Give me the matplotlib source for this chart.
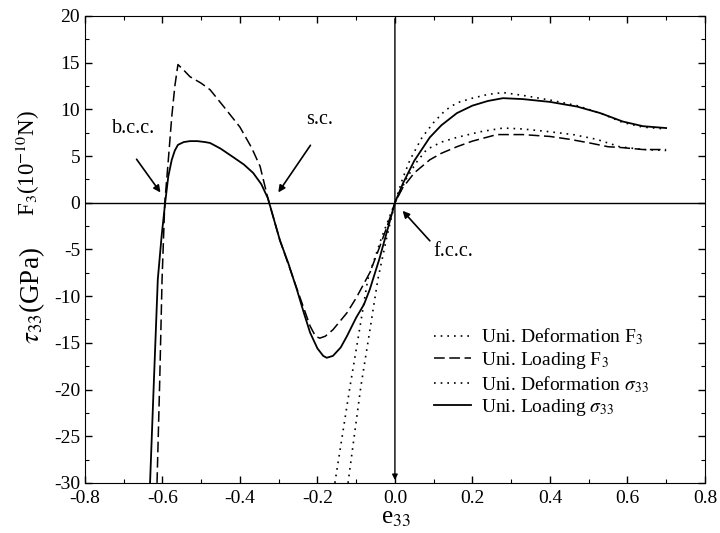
import matplotlib.pyplot as plt

# Uni. Loading sigma_33 (solid)
load_sig_x = [-0.632, -0.622, -0.612, -0.602, -0.593, -0.585, -0.576, -0.568, -0.56,
              -0.545, -0.529, -0.51, -0.49, -0.477, -0.45, -0.418, -0.39, -0.366,
              -0.345, -0.328, -0.297, -0.275, -0.253, -0.235, -0.219, -0.2, -0.185,
              -0.176, -0.16, -0.14, -0.124, -0.1, -0.08, -0.065, -0.04, -0.02, 0.0,
              0.021, 0.05, 0.09, 0.12, 0.16, 0.2, 0.24, 0.279, 0.33, 0.40, 0.47,
              0.53, 0.588, 0.64, 0.70]
load_sig_y = [-30, -19, -8.2, -3.5, 0, 2.8, 4.6, 5.6, 6.2,
              6.5, 6.6, 6.6, 6.5, 6.4, 5.8, 4.9, 4.1, 3.2,
              2.0, 0.5, -4.0, -6.5, -9.3, -11.8, -13.9, -15.6, -16.4,
              -16.6, -16.4, -15.5, -14.3, -12.3, -10.9, -9.3, -6.0, -3.0, 0.0,
              2.1, 4.5, 7.0, 8.3, 9.6, 10.4, 10.9, 11.2, 11.1, 10.8, 10.3,
              9.6, 8.7, 8.2, 8.0]

# Uni. Loading F3 (dashed)
load_f_x = [-0.614, -0.607, -0.601, -0.594, -0.585, -0.576, -0.568, -0.56, -0.545,
            -0.529, -0.50, -0.477, -0.44, -0.40, -0.37, -0.348, -0.328, -0.297,
            -0.253, -0.219, -0.205, -0.194, -0.18, -0.16, -0.124, -0.1, -0.065,
            -0.04, -0.02, 0.0, 0.02, 0.05, 0.09, 0.12, 0.16, 0.2, 0.263, 0.33,
            0.40, 0.45, 0.503, 0.55, 0.588, 0.64, 0.70]
load_f_y = [-30, -19, -8.2, 0, 4.5, 9.2, 12.5, 14.8, 14.2,
            13.5, 12.8, 12.1, 10.2, 8.1, 5.9, 3.9, 0.5, -4.0,
            -9.2, -13.2, -14.3, -14.5, -14.3, -13.6, -11.8, -10.2, -7.5,
            -4.8, -2.5, 0.0, 1.6, 3.2, 4.6, 5.3, 6.0, 6.6, 7.3, 7.3,
            7.1, 6.8, 6.4, 6.0, 5.9, 5.7, 5.7]

# Uni. Deformation sigma_33 (dotted)
def_sig_x = [-0.121, -0.105, -0.088, -0.066, -0.044, -0.02, 0.0, 0.02, 0.039, 0.07,
             0.1, 0.13, 0.16, 0.2, 0.24, 0.279, 0.33, 0.40, 0.47, 0.53, 0.588,
             0.64, 0.70]
def_sig_y = [-30, -25, -19.7, -14, -8.2, -3.5, 0, 2.6, 4.6, 7.0,
             8.6, 9.9, 10.7, 11.2, 11.6, 11.8, 11.5, 11.0, 10.4, 9.6, 8.6,
             8.1, 7.9]

# Uni. Deformation F3 (dotted)
def_f_x = [-0.155, -0.136, -0.116, -0.093, -0.07, -0.035, 0.0, 0.03, 0.055, 0.082,
           0.12, 0.16, 0.22, 0.279, 0.33, 0.40, 0.46, 0.52, 0.58, 0.64, 0.70]
def_f_y = [-30, -25, -19.7, -14, -8.2, -3.8, 0, 2.6, 4.3, 5.7,
           6.5, 7.0, 7.6, 8.0, 7.9, 7.6, 7.3, 6.8, 6.0, 5.7, 5.6]

plt.rcParams["font.family"] = ["Liberation Serif", "DejaVu Serif"]
plt.rcParams["mathtext.fontset"] = "stix"

fig = plt.figure(figsize=(7.2, 5.33), dpi=100)
ax = fig.add_axes([0.118, 0.094, 0.861, 0.876])

dots = (0, (1, 3))
dashes = (0, (7, 3))
ax.plot(def_f_x, def_f_y, color="black", lw=1.2, linestyle=dots, label="Uni. Deformation F$_3$")
ax.plot(load_f_x, load_f_y, color="black", lw=1.1, linestyle=dashes, label="Uni. Loading F$_3$")
ax.plot(def_sig_x, def_sig_y, color="black", lw=1.2, linestyle=dots, label=r"Uni. Deformation $\sigma_{33}$")
ax.plot(load_sig_x, load_sig_y, color="black", lw=1.3, label=r"Uni. Loading $\sigma_{33}$")

ax.axhline(0, color="black", lw=1.0)
ax.annotate("", xy=(0, -30), xytext=(0, 20),
            arrowprops=dict(arrowstyle="-|>", color="black", lw=1.0, mutation_scale=8))

arrow = dict(arrowstyle="-|>", color="black", lw=1.2, mutation_scale=10)
ax.annotate("", xy=(-0.601, 0.86), xytext=(-0.671, 4.9), arrowprops=arrow)
ax.text(-0.674, 8.0, "b.c.c.", fontsize=14.5, ha="center", va="center")
ax.annotate("", xy=(-0.305, 0.86), xytext=(-0.214, 6.4), arrowprops=arrow)
ax.text(-0.194, 8.9, "s.c.", fontsize=14.5, ha="center", va="center")
ax.annotate("", xy=(0.015, -0.64), xytext=(0.095, -4.3), arrowprops=arrow)
ax.text(0.15, -5.2, "f.c.c.", fontsize=14.5, ha="center", va="center")

ax.set_xlim(-0.8, 0.8)
ax.set_ylim(-30, 20)
ax.set_xticks([-0.8, -0.6, -0.4, -0.2, 0.0, 0.2, 0.4, 0.6, 0.8])
ax.set_xticklabels(["-0.8", "-0.6", "-0.4", "-0.2", "0.0", "0.2", "0.4", "0.6", "0.8"])
ax.set_yticks(range(-30, 21, 5))
ax.set_yticklabels([str(v) for v in range(-30, 21, 5)])
ax.set_xticks([-0.7, -0.5, -0.3, -0.1, 0.1, 0.3, 0.5, 0.7], minor=True)
ax.set_yticks([-27.5, -22.5, -17.5, -12.5, -7.5, -2.5, 2.5, 7.5, 12.5, 17.5], minor=True)
ax.tick_params(which="both", direction="in", top=True, right=True, labelsize=14)
ax.tick_params(which="major", length=5, width=1)
ax.tick_params(which="minor", length=3, width=0.8)
ax.tick_params(axis="x", pad=5)

fig.text(396 / 720, 1 - 518 / 533, "e$_{33}$", fontsize=18, ha="center", va="center")
fig.text(28 / 720, 1 - 163 / 533, "F$_3$(10$^{-10}$N)", fontsize=16.5, rotation=90,
         ha="center", va="center")
fig.text(32 / 720, 1 - 296 / 533, r"$\tau_{33}$(GPa)", fontsize=19.5, rotation=90,
         ha="center", va="center")

ax.legend(loc="upper left", bbox_to_anchor=(0.535, 0.372), frameon=False, fontsize=14,
          handlelength=1.9, handletextpad=0.5, labelspacing=0.14)

fig.savefig("out.png", dpi=100)
